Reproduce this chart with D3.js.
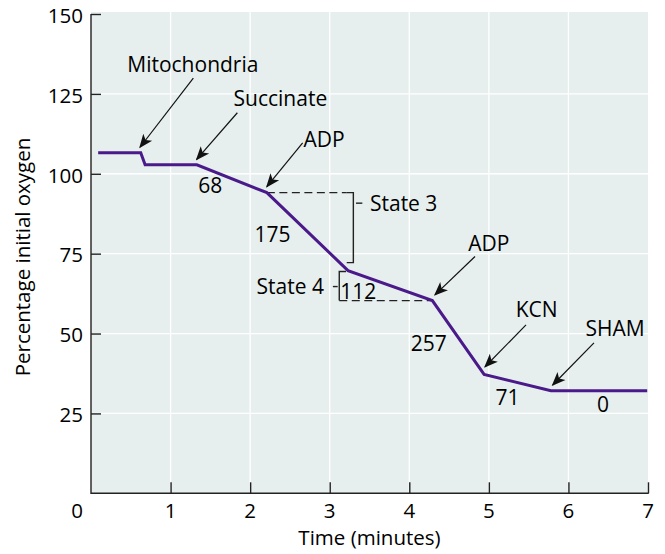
<!DOCTYPE html>
<html>
<head>
<meta charset="utf-8">
<script src="https://cdn.jsdelivr.net/npm/d3@7"></script>
<style>
  body { margin: 0; background: #fff; }
  text { font-family: "Open Sans", sans-serif; fill: #000; }
</style>
</head>
<body>
<script>
// oxygen trace
var timeMin   = [0.09, 0.625, 0.68, 1.33, 2.21, 3.23, 4.29, 4.94, 5.78, 6.99];
var oxygenPct = [106.6, 106.6, 102.8, 102.8, 94.1, 69.7, 60.3, 37.2, 32.1, 32.1];

var xTicks = [1, 2, 3, 4, 5, 6, 7];
var yTicks = [25, 50, 75, 100, 125, 150];

// additions: label, label position, arrow from -> to (data units)
var addLabels = ["Mitochondria", "Succinate", "ADP", "ADP", "KCN", "SHAM"];
var addText   = [[1.28, 131.8], [2.38, 121.2], [2.93, 108.4], [5.0, 75.9], [5.60, 55.3], [6.585, 49.2]];
var addFrom   = [[1.286, 129.9], [1.839, 119.1], [2.66, 109.7], [4.826, 74.1], [5.467, 52.7], [6.321, 47.1]];
var addTo     = [[0.616, 108.3], [1.328, 104.5], [2.21, 96.0], [4.323, 62.1], [4.952, 39.6], [5.802, 33.9]];

// respiration rates written beside each segment
var rateLabels = ["68", "175", "112", "257", "71", "0"];
var ratePos    = [[1.50, 94.0], [2.28, 78.7], [3.36, 60.7], [4.245, 44.6], [5.234, 27.6], [6.435, 25.5]];

var width = 665, height = 554;

var svg = d3.select("body").append("svg")
    .attr("width", width)
    .attr("height", height);

var x = d3.scaleLinear().domain([0, 7]).range([91, 648]);
var y = d3.scaleLinear().domain([0, 150]).range([493.3, 14]);

// panel
svg.append("rect")
    .attr("x", x(0)).attr("y", 12)
    .attr("width", x(7) - x(0)).attr("height", y(0) - 12)
    .attr("fill", "#e6efee");

// white grid
svg.append("g").selectAll("line").data(xTicks.slice(0, -1))
  .enter().append("line")
    .attr("x1", d => x(d)).attr("x2", d => x(d))
    .attr("y1", 12).attr("y2", y(0))
    .attr("stroke", "#fff").attr("stroke-width", 1.3);
svg.append("g").selectAll("line").data(yTicks.slice(0, -1))
  .enter().append("line")
    .attr("x1", x(0)).attr("x2", x(7))
    .attr("y1", d => y(d)).attr("y2", d => y(d))
    .attr("stroke", "#fff").attr("stroke-width", 1.3);

// axes (ticks point inward)
var xAxis = svg.append("g")
    .attr("transform", "translate(0," + y(0) + ")")
    .call(d3.axisTop(x).tickValues(xTicks).tickSize(11).tickFormat(""));
var yAxis = svg.append("g")
    .attr("transform", "translate(" + x(0) + ",0)")
    .call(d3.axisRight(y).tickValues(yTicks).tickSize(10).tickFormat(""));
[xAxis, yAxis].forEach(function(a) {
  a.select(".domain").attr("stroke", "#222").attr("stroke-width", 1.4);
  a.selectAll(".tick line").attr("stroke", "#222").attr("stroke-width", 1.4);
});
// plain domain lines without the end caps
xAxis.select(".domain").attr("d", "M" + x(0) + ",0H" + (x(7) + 0.7));
yAxis.select(".domain").attr("d", "M0," + y(150) + "V" + (y(0) + 0.7));

svg.append("g").selectAll("text").data([0].concat(xTicks))
  .enter().append("text")
    .attr("x", d => d === 0 ? x(0) - 14 : x(d))
    .attr("y", 518)
    .attr("text-anchor", "middle")
    .style("font-size", "20.5px")
    .text(d => d);
svg.append("g").selectAll("text").data(yTicks)
  .enter().append("text")
    .attr("x", x(0) - 8)
    .attr("y", d => y(d) + 8.8)
    .attr("text-anchor", "end")
    .style("font-size", "20.5px")
    .text(d => d);

svg.append("text")
    .attr("x", (x(0) + x(7)) / 2).attr("y", 545)
    .attr("text-anchor", "middle")
    .style("font-size", "20.5px")
    .text("Time (minutes)");
svg.append("text")
    .attr("transform", "translate(30,257) rotate(-90)")
    .attr("text-anchor", "middle")
    .style("font-size", "20.5px")
    .text("Percentage initial oxygen");

// state 3 / state 4 brackets
var dash = "8,4.5";
svg.append("line")
    .attr("x1", x(2.21)).attr("x2", x(3.214))
    .attr("y1", y(94.1)).attr("y2", y(94.1))
    .attr("stroke", "#222").attr("stroke-width", 1.4).attr("stroke-dasharray", dash);
svg.append("path")
    .attr("d", "M" + x(3.214) + "," + y(94.1) + "H" + x(3.297) + "V" + y(72.2) + "H" + x(3.214))
    .attr("fill", "none").attr("stroke", "#222").attr("stroke-width", 1.4);
svg.append("line")
    .attr("x1", x(3.33)).attr("x2", x(3.41))
    .attr("y1", y(90.8)).attr("y2", y(90.8))
    .attr("stroke", "#222").attr("stroke-width", 1.4);
svg.append("text")
    .attr("x", x(3.506)).attr("y", y(88.4))
    .style("font-size", "21px")
    .text("State 3");

svg.append("path")
    .attr("d", "M" + x(3.205) + "," + y(69.4) + "H" + x(3.12) + "V" + y(60.3))
    .attr("fill", "none").attr("stroke", "#222").attr("stroke-width", 1.4);
svg.append("line")
    .attr("x1", x(3.12)).attr("x2", x(4.29))
    .attr("y1", y(60.3)).attr("y2", y(60.3))
    .attr("stroke", "#222").attr("stroke-width", 1.4).attr("stroke-dasharray", dash);
svg.append("line")
    .attr("x1", x(3.04)).attr("x2", x(3.10))
    .attr("y1", y(64.7)).attr("y2", y(64.7))
    .attr("stroke", "#222").attr("stroke-width", 1.4);
svg.append("text")
    .attr("x", x(2.928)).attr("y", y(62.4))
    .attr("text-anchor", "end")
    .style("font-size", "21px")
    .text("State 4");

// the trace
var line = d3.line()
    .x(d => x(d[0]))
    .y(d => y(d[1]));
svg.append("path")
    .datum(d3.zip(timeMin, oxygenPct))
    .attr("d", line)
    .attr("fill", "none")
    .attr("stroke", "#4b1a8a")
    .attr("stroke-width", 3)
    .attr("stroke-linejoin", "miter");

// arrowheads
svg.append("defs").append("marker")
    .attr("id", "arr")
    .attr("viewBox", "0 0 10 10")
    .attr("refX", 9).attr("refY", 5)
    .attr("markerWidth", 14).attr("markerHeight", 14)
    .attr("markerUnits", "userSpaceOnUse")
    .attr("orient", "auto")
  .append("path")
    .attr("d", "M0,1L10,5L0,9L2.5,5Z")
    .attr("fill", "#111");

svg.append("g").selectAll("line").data(addFrom)
  .enter().append("line")
    .attr("x1", d => x(d[0])).attr("y1", d => y(d[1]))
    .attr("x2", (d, i) => x(addTo[i][0])).attr("y2", (d, i) => y(addTo[i][1]))
    .attr("stroke", "#111").attr("stroke-width", 1.2)
    .attr("marker-end", "url(#arr)");

svg.append("g").selectAll("text").data(addLabels)
  .enter().append("text")
    .attr("x", (d, i) => x(addText[i][0]))
    .attr("y", (d, i) => y(addText[i][1]))
    .attr("text-anchor", "middle")
    .style("font-size", "21px")
    .text(d => d);

svg.append("g").selectAll("text").data(rateLabels)
  .enter().append("text")
    .attr("x", (d, i) => x(ratePos[i][0]))
    .attr("y", (d, i) => y(ratePos[i][1]))
    .attr("text-anchor", "middle")
    .style("font-size", "21px")
    .text(d => d);
</script>
</body>
</html>
